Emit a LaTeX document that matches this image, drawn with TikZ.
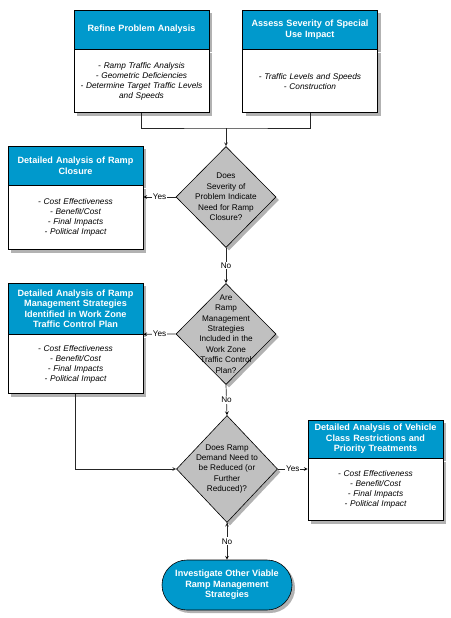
\documentclass[tikz,border=0pt]{standalone}
\usepackage{fontspec}
\setmainfont{Liberation Sans}
\usetikzlibrary{positioning,shapes.geometric,shapes.misc,shadows}
\definecolor{headblue}{RGB}{0,153,204}
\definecolor{diagrey}{RGB}{192,192,192}

\begin{document}
\begin{tikzpicture}[x=1pt,y=-1pt,
  shade/.style={drop shadow={shadow xshift=3pt,shadow yshift=-3pt,fill=black!30,opacity=1}},
  head/.style={shade,draw,line width=.6pt,fill=headblue,text=white,font=\fontsize{9.1}{10.5}\selectfont\bfseries,align=center,minimum width=135pt,text width=131pt,inner sep=0pt},
  body/.style={shade,draw,line width=.6pt,fill=white,font=\fontsize{8.3}{10}\selectfont\itshape,align=center,minimum width=135pt,text width=131pt,inner sep=0pt},
  dec/.style={shade,diamond,draw,line width=.6pt,fill=diagrey,minimum width=100pt,minimum height=101pt,inner sep=0pt},
  dectext/.style={font=\fontsize{8.2}{10.4}\selectfont,align=center,inner sep=0pt},
  stop/.style={shade,rounded rectangle,draw,line width=.6pt,fill=headblue,text=white,font=\fontsize{9.1}{10.5}\selectfont\bfseries,align=center,minimum width=130pt,minimum height=50pt,inner sep=0pt},
  line/.style={draw=black!85,line width=.7pt},
  lbl/.style={fill=white,inner sep=1pt,font=\fontsize{8.2}{9}\selectfont}]
  \useasboundingbox (0,0) rectangle (450,618);

  % top boxes
  \node[head,minimum height=39pt] (refineH) at (141.5,29.5) {Refine Problem Analysis};
  \node[body,minimum height=63pt,below=0pt of refineH] (refineB)
    {- Ramp Traffic Analysis\\- Geometric Deficiencies\\- Determine Target Traffic Levels\\and Speeds};
  \node[head,minimum height=39pt] (assessH) at (310,29.5) {Assess Severity of Special\\Use Impact};
  \node[body,minimum height=63pt,below=0pt of assessH] (assessB)
    {- Traffic Levels and Speeds\\- Construction};

  % decisions
  \node[dec,label={[dectext]center:{Does\\Severity of\\Problem Indicate\\Need for Ramp\\Closure?}}] (closeD) at (226,197) {};
  \node[dec,label={[dectext]center:{Are\\Ramp\\Management\\Strategies\\Included in the\\Work Zone\\Traffic Control\\Plan?}}] (mgmtD) at (226,334) {};
  \node[dec,minimum width=101pt,minimum height=107pt,label={[dectext]center:{Does Ramp\\Demand Need to\\be Reduced (or\\Further\\Reduced)?}}] (vehD) at (227,469) {};

  % analysis boxes
  \node[head,minimum height=39pt] (closeH) at (75.5,165.5) {Detailed Analysis of Ramp\\Closure};
  \node[body,minimum height=64pt,below=0pt of closeH] (closeB)
    {- Cost Effectiveness\\- Benefit/Cost\\- Final Impacts\\- Political Impact};
  \node[head,minimum height=51pt] (mgmtH) at (75.5,308.5) {Detailed Analysis of Ramp\\Management Strategies\\Identified in Work Zone\\Traffic Control Plan};
  \node[body,minimum height=59pt,below=0pt of mgmtH] (mgmtB)
    {- Cost Effectiveness\\- Benefit/Cost\\- Final Impacts\\- Political Impact};
  \node[head,minimum height=38pt] (vehH) at (375.5,439) {Detailed Analysis of Vehicle\\Class Restrictions and\\Priority Treatments};
  \node[body,minimum height=62pt,below=0pt of vehH] (vehB)
    {- Cost Effectiveness\\- Benefit/Cost\\- Final Impacts\\- Political Impact};

  \node[stop] (invest) at (227,585) {Investigate Other Viable\\Ramp Management\\Strategies};

  % connectors
  \coordinate (join) at (226,128);
  \draw[line] (refineB.south) |- (join) -| (assessB.south);
  \draw[line,-stealth] (join) -- (closeD.north);
  \draw[line,-stealth] (mgmtB.south) |- (vehD.west);
  \path[line,-stealth]
    (closeD.west) edge node[lbl] {Yes} (closeB.east |- closeD.west)
    (mgmtD.west) edge node[lbl] {Yes} (mgmtB.north east)
    (vehD.east) edge node[lbl] {Yes} (vehB.west |- vehD.east)
    (closeD.south) edge node[lbl] {No} (mgmtD.north)
    (mgmtD.south) edge node[lbl] {No} (vehD.north)
    (vehD.south) edge node[lbl] {No} (invest.north);
\end{tikzpicture}
\end{document}
